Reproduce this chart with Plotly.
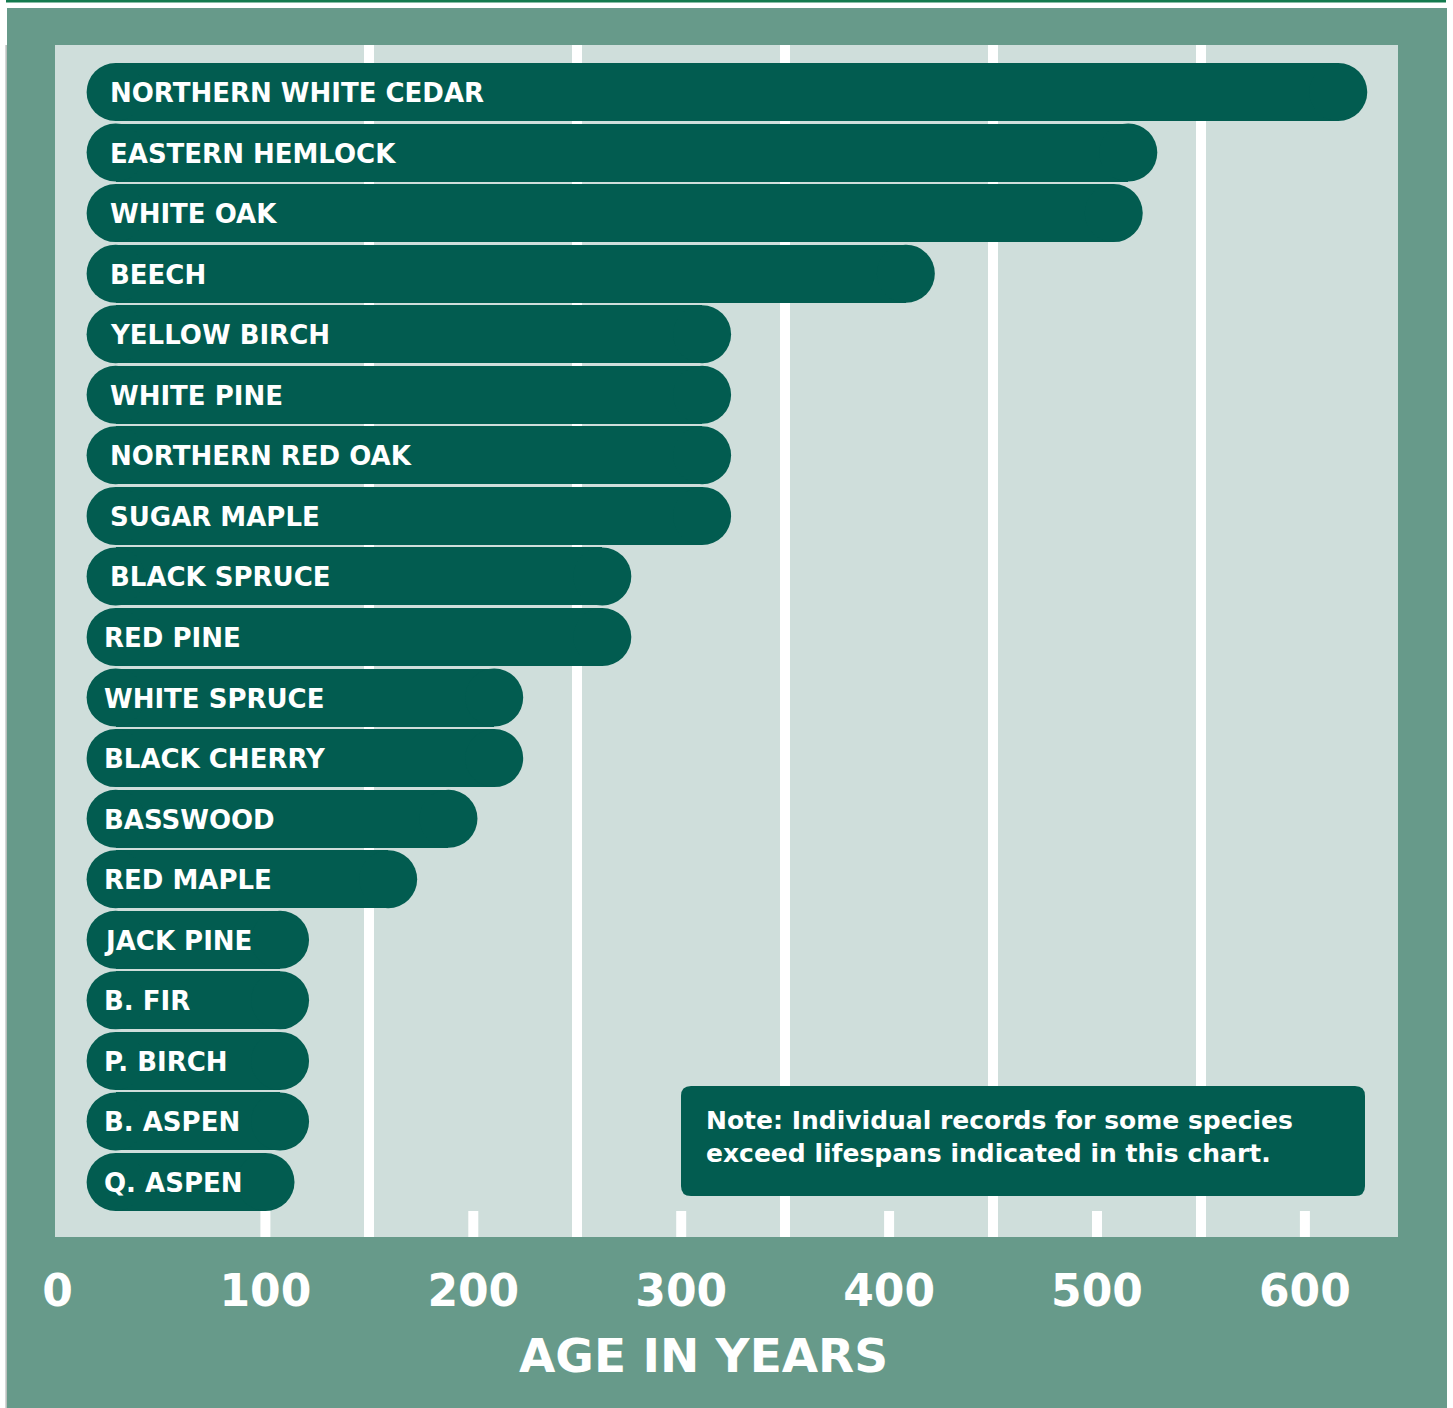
import plotly.graph_objects as go

# ---------------- data ----------------
species = [
    "NORTHERN WHITE CEDAR", "EASTERN HEMLOCK", "WHITE OAK", "BEECH",
    "YELLOW BIRCH", "WHITE PINE", "NORTHERN RED OAK", "SUGAR MAPLE",
    "BLACK SPRUCE", "RED PINE", "WHITE SPRUCE", "BLACK CHERRY",
    "BASSWOOD", "RED MAPLE", "JACK PINE", "B. FIR", "P. BIRCH",
    "B. ASPEN", "Q. ASPEN",
]
lifespan_years = [630, 529, 522, 422, 324, 324, 324, 324, 276, 276,
                  224, 224, 202, 173, 121, 121, 121, 121, 114]
bar_start_years = 14
tick_values = [0, 100, 200, 300, 400, 500, 600]
tick_labels = ["0", "100", "200", "300", "400", "500", "600"]
grid_values = [150, 250, 350, 450, 550]
axis_title = "AGE IN YEARS"
note_text = "Note: Individual records for some species<br>exceed lifespans indicated in this chart."

# ---------------- style ----------------
W, H = 1453, 1408
PL, PR, PT, PB = 55, 1398, 45, 1237          # plot area in pixels
OUTER = "#679a8a"
PANEL = "#cfdedb"
BAR = "#025c50"
TOPLINE = "#137a4e"
FONT = "DejaVu Sans"
label_shift = [21] * 9 + [15] * 10
BAR_PX = 58                                    # bar thickness in pixels

x0_px = 57.5
px_per_year = 2.079
cap_r = (BAR_PX / 2) / px_per_year             # cap radius in axis units


def px(x):
    return (x - PL) / (PR - PL)


def py(y):
    return (PB - y) / (PB - PT)


ypos = list(range(len(species)))
row_px = (PB - PT) / (len(species) - 1 + 0.908 + 0.776)

left_centres = [bar_start_years + cap_r for _ in lifespan_years]
right_centres = [v - cap_r for v in lifespan_years]

fig = go.Figure()
# straight body of each pill
fig.add_trace(go.Bar(
    y=ypos, base=left_centres,
    x=[r - l for r, l in zip(right_centres, left_centres)],
    orientation="h", width=BAR_PX / row_px,
    marker=dict(color=BAR, line=dict(width=0)),
    hoverinfo="skip", showlegend=False,
))
# rounded caps at both ends
fig.add_trace(go.Scatter(
    x=left_centres + right_centres, y=ypos + ypos, mode="markers",
    marker=dict(size=BAR_PX, color=BAR, line=dict(width=0)),
    hoverinfo="skip", showlegend=False,
))

annotations = []
for i, name in enumerate(species):
    annotations.append(dict(
        x=bar_start_years, y=i, xref="x", yref="y", text=name,
        xanchor="left", yanchor="middle", xshift=label_shift[i], yshift=-1,
        showarrow=False,
        font=dict(family=FONT, size=26, color="white", weight="bold"),
    ))

annotations.append(dict(
    x=px(703), y=py(1355), xref="paper", yref="paper", text=axis_title,
    xanchor="center", yanchor="middle", showarrow=False,
    font=dict(family=FONT, size=47, color="white", weight="bold"),
))
annotations.append(dict(
    x=px(704), y=py(1137), xref="paper", yref="paper", text=note_text,
    xanchor="left", yanchor="middle", align="left", showarrow=False,
    font=dict(family=FONT, size=25, color="white", weight="bold"),
))


def rounded_rect(x0, y0, x1, y1, r):
    pts = [
        ("M", [(x0 + r, y0)]),
        ("L", [(x1 - r, y0)]),
        ("Q", [(x1, y0), (x1, y0 + r)]),
        ("L", [(x1, y1 - r)]),
        ("Q", [(x1, y1), (x1 - r, y1)]),
        ("L", [(x0 + r, y1)]),
        ("Q", [(x0, y1), (x0, y1 - r)]),
        ("L", [(x0, y0 + r)]),
        ("Q", [(x0, y0), (x0 + r, y0)]),
    ]
    s = ""
    for cmd, ps in pts:
        s += cmd + " " + " ".join(f"{px(a):.5f},{py(b):.5f}" for a, b in ps) + " "
    return s + "Z"


shapes = [
    # outer green frame
    dict(type="rect", xref="paper", yref="paper", x0=px(7), x1=px(1447),
         y0=py(1420), y1=py(8), fillcolor=OUTER, line=dict(width=0), layer="below"),
    # thin top rule
    dict(type="rect", xref="paper", yref="paper", x0=px(6), x1=px(1446),
         y0=py(2.5), y1=py(-1), fillcolor=TOPLINE, line=dict(width=0), layer="below"),
    # faint left edge line
    dict(type="rect", xref="paper", yref="paper", x0=px(5.5), x1=px(6.8),
         y0=py(1420), y1=py(45), fillcolor="#a9b0ad", line=dict(width=0), layer="below"),
    # light panel
    dict(type="rect", xref="paper", yref="paper", x0=0, x1=1, y0=0, y1=1,
         fillcolor=PANEL, line=dict(width=0), layer="below"),
]
# short tick marks at the bottom of the panel
for v in tick_values[1:]:
    shapes.append(dict(type="line", xref="x", yref="paper", x0=v, x1=v,
                       y0=0, y1=26 / (PB - PT), line=dict(color="white", width=10),
                       layer="below"))
# note box
shapes.append(dict(type="path", xref="paper", yref="paper",
                   path=rounded_rect(681, 1086, 1365, 1196, 10),
                   fillcolor=BAR, line=dict(width=0), layer="above"))

fig.update_layout(
    width=W, height=H, autosize=False,
    margin=dict(l=PL, r=W - PR, t=PT, b=H - PB, pad=0),
    paper_bgcolor="white", plot_bgcolor="rgba(0,0,0,0)",
    barmode="overlay", bargap=0,
    showlegend=False,
    shapes=shapes, annotations=annotations,
    xaxis=dict(
        range=[(PL - x0_px) / px_per_year, (PR - x0_px) / px_per_year],
        tickmode="array", tickvals=tick_values, ticktext=tick_labels,
        ticks="", showgrid=False, zeroline=False, showline=False,
        tickfont=dict(family=FONT, size=44, color="white", weight="bold"),
        ticklabelstandoff=24,
        minor=dict(tickmode="array", tickvals=grid_values, showgrid=True,
                   gridcolor="white", gridwidth=10, ticks=""),
        fixedrange=True,
    ),
    yaxis=dict(
        range=[len(species) - 1 + 0.908, -0.776],
        showticklabels=False, showgrid=False, zeroline=False, showline=False,
        ticks="", fixedrange=True,
    ),
)

fig.write_html(
    "out.html",
    config={"displayModeBar": False},
    post_script="document.body.style.margin='0';document.body.style.overflow='hidden';",
)
